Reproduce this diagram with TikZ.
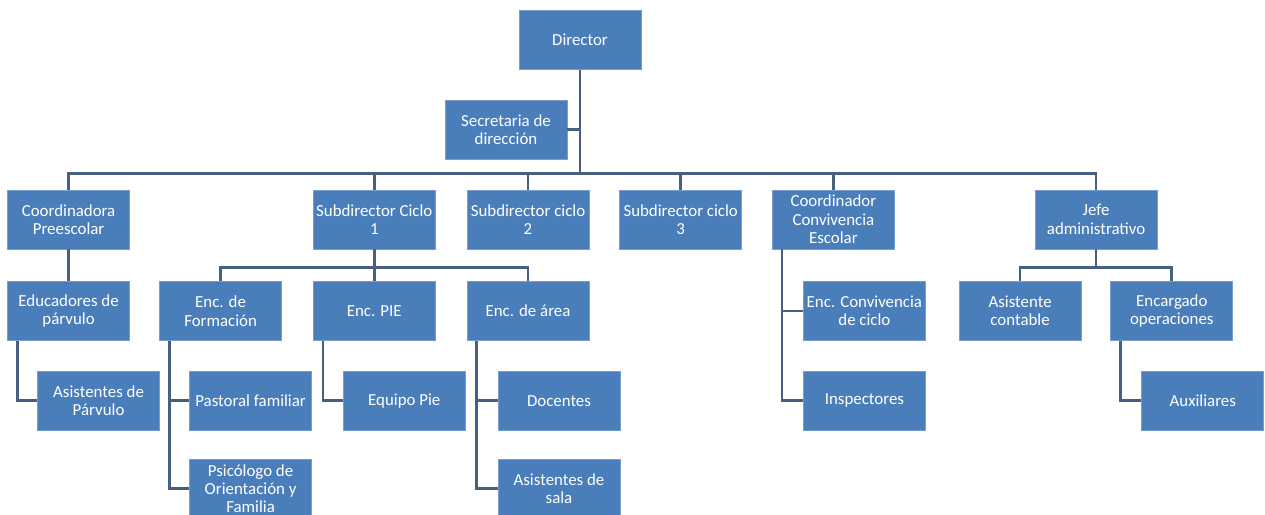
\documentclass[tikz,border=0pt]{standalone}
\usepackage{fontspec}
\setmainfont{Carlito}
\usetikzlibrary{positioning}
\definecolor{boxblue}{RGB}{74,126,187}
\definecolor{linkgray}{RGB}{72,96,128}

\begin{document}
\begin{tikzpicture}[font=\fontsize{12}{13}\selectfont,
	box/.style={draw=boxblue!75!white, line width=0.5pt, fill=boxblue,
		text=white, align=center, inner sep=1pt,
		minimum width=3.05cm, minimum height=1.475cm},
	link/.style={draw=linkgray, line width=1.9pt}]
		
		\useasboundingbox (0,0) rectangle (31.625,-12.875);
		
		\node[box] (block1) at (14.5,-1.0) {Director};
		
		\node[box,
		below=0.75cm of block1,
		xshift=-1.85cm] (block2) {Secretaria de\\dirección};
		
		% Second row
		\node[box,
		below=0.75cm of block2,
		xshift=0.55cm] (block5) {Subdirector ciclo\\2};
		
		\node[box,
		left=0.775cm of block5] (block4) {Subdirector Ciclo\\1};
		
		\node[box,
		left=4.575cm of block4] (block3) {Coordinadora\\Preescolar};
		
		\node[box,
		right=0.75cm of block5] (block6) {Subdirector ciclo\\3};
		
		\node[box,
		right=0.75cm of block6] (block7) {Coordinador\\Convivencia\\Escolar};
		
		\node[box,
		right=3.5cm of block7] (block8) {Jefe\\administrativo};
		
		% Third row
		\node[box,
		below=0.8cm of block3] (block9) {Educadores de\\párvulo};
		
		\node[box,
		below=0.8cm of block4] (block11) {Enc. PIE};
		
		\node[box,
		left=0.775cm of block11] (block10) {Enc. de\\Formación};
		
		\node[box,
		right=0.775cm of block11] (block12) {Enc. de área};
		
		\node[box,
		below=0.8cm of block7,
		xshift=0.775cm] (block13) {Enc. Convivencia\\de ciclo};
		
		\node[box,
		below=0.8cm of block8,
		xshift=-1.9cm] (block14) {Asistente\\contable};
		
		\node[box,
		right=0.725cm of block14] (block15) {Encargado\\operaciones};
		
		% Fourth row
		\node[box,
		below=0.75cm of block9,
		xshift=0.75cm] (block16) {Asistentes de\\Párvulo};
		
		\node[box,
		below=0.75cm of block10,
		xshift=0.75cm] (block17) {Pastoral familiar};
		
		\node[box,
		below=0.75cm of block11,
		xshift=0.75cm] (block18) {Equipo Pie};
		
		\node[box,
		below=0.75cm of block12,
		xshift=0.775cm] (block19) {Docentes};
		
		\node[box,
		below=0.75cm of block13] (block20) {Inspectores};
		
		\node[box,
		below=0.75cm of block15,
		xshift=0.775cm] (block21) {Auxiliares};
		
		% Fifth row
		\node[box,
		below=0.7cm of block17] (block22) {Psicólogo de\\Orientación y\\Familia};
		
		\node[box,
		below=0.7cm of block19] (block23) {Asistentes de\\sala};
		
		% Lines
		\draw[link] (block2.east) -- (block2.east -| block1.south);
		
		\draw[link] (block1.south) |- ([yshift=0.4cm]block3.north) -- (block3.north);
		\draw[link] (block1.south) |- ([yshift=0.4cm]block4.north) -- (block4.north);
		\draw[link] (block1.south) |- ([yshift=0.4cm]block5.north) -- (block5.north);
		\draw[link] (block1.south) |- ([yshift=0.4cm]block6.north) -- (block6.north);
		\draw[link] (block1.south) |- ([yshift=0.4cm]block7.north) -- (block7.north);
		\draw[link] (block1.south) |- ([yshift=0.4cm]block8.north) -- (block8.north);
		
		\draw[link] (block3) -- (block9);
		
		\draw[link] (block4.south) |- ([yshift=0.35cm]block10.north) -- (block10.north);
		\draw[link] (block4.south) |- ([yshift=0.35cm]block11.north) -- (block11.north);
		\draw[link] (block4.south) |- ([yshift=0.35cm]block12.north) -- (block12.north);
		
		\draw[link] (block8.south) |- ([yshift=0.35cm]block14.north) -- (block14.north);
		\draw[link] (block8.south) |- ([yshift=0.35cm]block15.north) -- (block15.north);
		
		\draw[link] ([xshift=0.25cm]block9.south west) |- (block16.west);
		\draw[link] ([xshift=0.25cm]block10.south west) |- (block17.west);
		\draw[link] ([xshift=0.25cm]block10.south west) |- (block22.west);
		\draw[link] ([xshift=0.25cm]block11.south west) |- (block18.west);
		\draw[link] ([xshift=0.25cm]block12.south west) |- (block19.west);
		\draw[link] ([xshift=0.25cm]block12.south west) |- (block23.west);
		\draw[link] ([xshift=0.25cm]block7.south west) |- (block13.west);
		\draw[link] ([xshift=0.25cm]block7.south west) |- (block20.west);
		\draw[link] ([xshift=0.25cm]block15.south west) |- (block21.west);
		
\end{tikzpicture}
\end{document}
